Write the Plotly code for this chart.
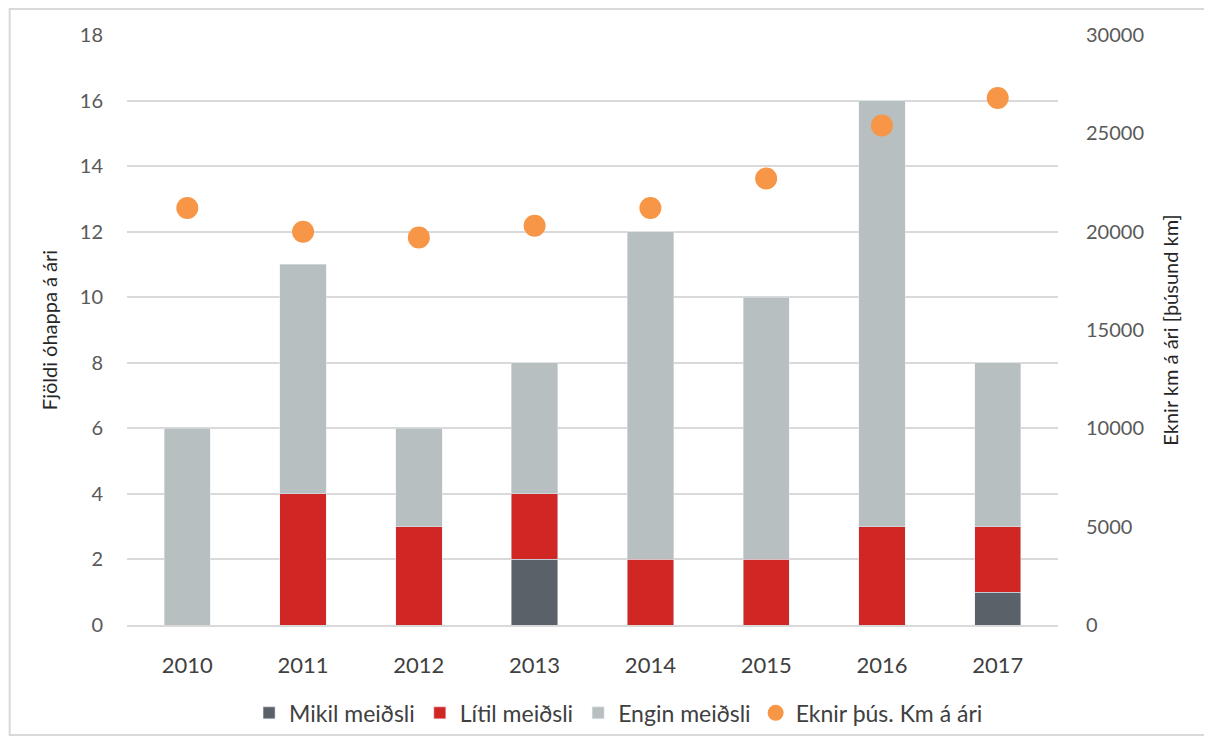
import plotly.graph_objects as go

years = ["2010", "2011", "2012", "2013", "2014", "2015", "2016", "2017"]
mikil = [0, 0, 0, 2, 0, 0, 0, 1]
litil = [0, 4, 3, 2, 2, 2, 3, 2]
engin = [6, 7, 3, 4, 10, 8, 13, 5]
eknir = [21200, 20000, 19700, 20300, 21200, 22700, 25400, 26800]

FONT = "Lato, 'Open Sans', sans-serif"

fig = go.Figure()
fig.add_trace(go.Bar(x=years, y=mikil, name="Mikil meiðsli", marker_color="#5B6168"))
fig.add_trace(go.Bar(x=years, y=litil, name="Lítil meiðsli", marker_color="#D02624"))
fig.add_trace(go.Bar(x=years, y=engin, name="Engin meiðsli", marker_color="#B7BFC1"))
fig.add_trace(go.Scatter(x=years, y=eknir, name="Eknir þús. Km á ári", mode="markers",
                         marker=dict(color="#F79646", size=22), yaxis="y2"))

fig.update_layout(
    width=1212, height=743,
    barmode="stack", bargap=0.6,
    paper_bgcolor="white", plot_bgcolor="white",
    font=dict(family=FONT, color="#595959", size=20),
    margin=dict(l=119, r=162, t=27, b=126),
    xaxis=dict(showgrid=False, showline=True, linecolor="#D9D9D9", linewidth=2,
               ticks="", tickfont=dict(size=22, color="#404040"), ticklabelstandoff=20),
    yaxis=dict(range=[0, 18], dtick=2, showgrid=True, gridcolor="#D9D9D9", gridwidth=1.5,
               zeroline=False, ticks="", ticklabelstandoff=23,
               title=dict(text="Fjöldi óhappa á ári", font=dict(size=20, color="#262626"), standoff=16)),
    yaxis2=dict(range=[0, 30000], dtick=5000, tickformat="d", overlaying="y", side="right",
                showgrid=False, zeroline=False, ticks="", ticklabelstandoff=27,
                title=dict(text="Eknir km á ári [þúsund km]", font=dict(size=20, color="#262626"), standoff=20)),
    legend=dict(orientation="h", x=0.528, xanchor="center", y=-0.149, yanchor="middle",
                font=dict(size=23, color="#404040"), traceorder="normal", itemwidth=30),
    shapes=[dict(type="rect", xref="paper", yref="paper", x0=-0.126, x1=1.1579, y0=-0.1864, y1=1.0441,
                 line=dict(color="#D9D9D9", width=2), fillcolor="rgba(0,0,0,0)")],
)

fig.write_html("out.html")
